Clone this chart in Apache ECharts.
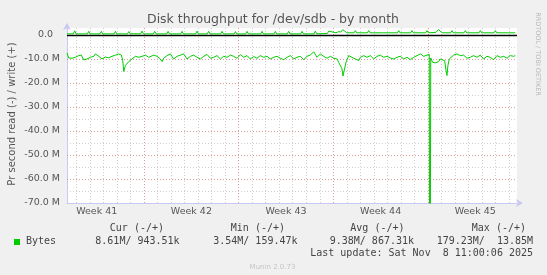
<!DOCTYPE html>
<html><head><meta charset="utf-8">
<script src="https://cdn.jsdelivr.net/npm/echarts@6/dist/echarts.min.js"></script>
<style>html,body{margin:0;padding:0;background:#f0f0f0}#c{width:547px;height:275px}</style>
</head><body><div id="c"></div>
<script>
// ---- texts ----
const titleText = 'Disk throughput for /dev/sdb - by month';
const yAxisTitle = 'Pr second read (-) / write (+)';
const sideText = 'RRDTOOL / TOBI OETIKER';
const footerText = 'Munin 2.0.73';
// x axis: days relative to start of week 42
const weekLabels = ['Week 41', 'Week 42', 'Week 43', 'Week 44', 'Week 45'];
const weekCenters = [-3.5, 3.5, 10.5, 17.5, 24.5];
const weekStarts = [0, 7, 14, 21];
const yTickValues = [0, -10, -20, -30, -40, -50, -60, -70];
// ---- data (MB/s; read is negative) ----
const readDays = [-5.70,-5.57,-5.33,-5.08,-4.83,-4.64,-4.46,-4.22,-3.97,-3.72,-3.60,-3.35,-3.11,-2.98,-2.86,-2.61,-2.37,-2.12,-1.87,-1.68,-1.58,-1.50,-1.38,-1.13,-0.89,-0.76,-0.64,-0.39,-0.15,0.10,0.35,0.47,0.71,0.96,1.21,1.33,1.45,1.70,1.95,2.19,2.44,2.69,2.93,3.18,3.43,3.67,3.92,4.17,4.41,4.66,4.91,5.15,5.40,5.65,5.89,6.14,6.39,6.63,6.88,7.13,7.37,7.62,7.86,8.11,8.36,8.60,8.85,9.10,9.34,9.59,9.84,10.08,10.33,10.58,10.82,11.07,11.32,11.56,11.81,12.06,12.30,12.55,12.80,13.04,13.29,13.54,13.78,14.03,14.28,14.40,14.52,14.64,14.72,14.84,14.94,15.14,15.38,15.63,15.88,16.00,16.25,16.49,16.74,16.99,17.23,17.48,17.73,17.97,18.22,18.47,18.71,18.96,19.21,19.45,19.70,19.95,20.19,20.44,20.69,20.93,21.10,21.14,21.17,21.21,21.35,21.54,21.79,21.91,22.04,22.24,22.34,22.41,22.48,22.58,22.66,22.90,23.15,23.39,23.64,23.89,24.13,24.38,24.63,24.87,25.12,25.37,25.61,25.86,26.11,26.35,26.60,26.85,27.09,27.34,27.46];
const readVals = [-7.5,-9.6,-9.7,-9.3,-8.6,-8.4,-10.4,-10.0,-9.3,-8.9,-7.9,-8.9,-10.0,-9.7,-9.2,-9.5,-8.9,-8.4,-7.9,-8.4,-10.5,-15.2,-12.7,-11.1,-10.0,-9.6,-8.9,-9.3,-8.9,-8.4,-9.3,-8.6,-8.4,-8.9,-10.0,-11.1,-9.7,-8.6,-7.9,-10.0,-8.9,-8.4,-7.9,-10.0,-8.9,-8.4,-9.3,-10.0,-8.9,-8.1,-9.7,-9.3,-8.6,-10.0,-8.9,-9.3,-8.4,-8.9,-9.7,-8.2,-9.3,-8.6,-10.0,-9.0,-9.7,-8.6,-9.3,-8.9,-10.0,-9.3,-8.9,-9.7,-10.3,-9.3,-8.6,-10.0,-9.3,-8.9,-10.3,-8.9,-8.4,-7.0,-9.3,-7.9,-8.9,-9.7,-8.9,-9.7,-10.0,-11.4,-10.7,-14.1,-17.1,-16.9,-11.4,-8.6,-9.3,-10.0,-10.7,-9.3,-8.6,-9.3,-8.6,-10.0,-8.9,-8.4,-9.3,-8.9,-9.6,-10.0,-9.3,-8.9,-10.0,-9.3,-10.3,-9.3,-8.6,-7.9,-8.9,-8.4,-8.1,-179.2,-179.2,-9.6,-11.4,-11.6,-11.1,-10.0,-9.3,-10.7,-14.8,-16.9,-12.7,-10.0,-9.3,-8.4,-7.9,-8.6,-8.4,-9.7,-9.3,-8.6,-9.3,-8.4,-10.0,-8.9,-9.3,-10.3,-8.6,-9.3,-8.9,-9.7,-8.6,-8.9,-8.6];
const writeDays = [-5.70,-5.23,-5.13,-5.03,-4.19,-4.09,-3.99,-3.26,-3.16,-3.06,-2.22,-2.12,-2.02,-1.23,-1.13,-1.03,-0.90,-0.80,-0.25,-0.15,-0.05,0.69,0.79,0.89,1.68,1.78,1.88,2.71,2.81,2.91,3.82,3.92,4.02,4.68,4.78,4.88,5.67,5.77,5.87,6.66,6.76,6.86,7.52,7.62,7.72,8.63,8.73,8.83,9.61,9.71,9.81,10.60,10.70,10.80,11.59,11.69,11.79,12.57,12.67,12.77,13.56,13.66,13.76,14.20,14.40,14.55,14.70,14.85,15.00,15.53,15.63,15.73,16.52,16.62,16.72,17.63,17.73,17.83,18.74,18.84,18.94,19.72,19.82,19.92,20.83,20.93,21.03,21.60,21.79,21.95,22.10,22.68,22.78,22.88,23.67,23.77,23.87,24.78,24.88,24.98,25.89,25.99,26.09,26.87,26.97,27.07,27.46];
const writeVals = [0.45,0.45,1.7,0.45,0.45,1.5,0.45,0.45,1.5,0.45,0.45,1.5,0.45,0.45,1.4,0.5,0.9,0.5,0.45,1.6,0.45,0.45,1.5,0.45,0.45,1.5,0.45,0.45,1.5,0.45,0.45,1.6,0.45,0.45,1.5,0.45,0.45,1.5,0.45,0.45,1.4,0.45,0.45,1.5,0.45,0.45,1.5,0.45,0.45,1.5,0.45,0.45,1.5,0.45,0.45,1.5,0.45,0.45,1.6,0.5,0.6,1.6,0.8,0.9,1.4,1.2,2.2,1.6,0.9,0.9,1.8,0.9,0.9,1.8,0.9,0.9,1.7,0.9,0.9,1.8,0.9,0.9,1.8,0.9,0.9,1.8,0.9,1.1,2.3,1.3,0.9,0.9,1.8,0.9,0.9,1.8,0.9,0.9,1.8,0.9,0.9,1.8,0.9,0.9,1.7,0.9,0.9];
// legend table
const legendSeriesName = 'Bytes';
const legendHeaders = ['Cur (-/+)', 'Min (-/+)', 'Avg (-/+)', 'Max (-/+)'];
const legendValues = ['8.61M/ 943.51k', '3.54M/ 159.47k', '9.38M/ 867.31k', '179.23M/  13.85M'];
const lastUpdate = 'Last update: Sat Nov  8 11:00:06 2025';

const GREEN = '#00cc00';
const X_MIN = -5.7, X_MAX = 27.59, Y_MIN = -70, Y_MAX = 2.9;

// grid lines
const minorStyle = {color: '#cfcfcf', width: 1, type: [1, 2]};
const majorStyle = {color: 'rgba(215,120,120,0.75)', width: 1, type: [1, 2]};
const gridLines = [];
for (let d = Math.ceil(X_MIN); d <= X_MAX; d++) {
  const isWeek = weekStarts.indexOf(d) >= 0;
  gridLines.push({xAxis: d, lineStyle: isWeek ? majorStyle : minorStyle});
}
for (let v = -65; v < 0; v += 5) {
  gridLines.push({yAxis: v, lineStyle: (v % 10 === 0) ? majorStyle : minorStyle});
}

const chart = echarts.init(document.getElementById('c'), null, {renderer: 'canvas'});
const monoFont = '"DejaVu Sans Mono", monospace';
const sansFont = '"DejaVu Sans", sans-serif';
const legendGraphics = [];
const headerRight = [164, 285, 404.5, 526];
const valueRight = [179.6, 297.5, 414, 533];
legendHeaders.forEach((h, i) => legendGraphics.push({type: 'text', right: 547 - headerRight[i], top: 223, style: {text: h, font: '10px ' + monoFont, fill: '#444'}}));
legendValues.forEach((h, i) => legendGraphics.push({type: 'text', right: 547 - valueRight[i], top: 236, style: {text: h, font: '10px ' + monoFont, fill: '#444'}}));

chart.setOption({
  animation: false,
  backgroundColor: '#f0f0f0',
  grid: {left: 67, right: 30, top: 28, bottom: 72, show: true, backgroundColor: '#ffffff', borderWidth: 0, containLabel: false, outerBoundsMode: 'none'},
  xAxis: {
    type: 'value', min: X_MIN, max: X_MAX,
    axisLine: {show: true, onZero: false, lineStyle: {color: '#c8c8f4', width: 1}, symbol: ['none', 'arrow'], symbolSize: [6, 7], symbolOffset: [0, 6]},
    axisTick: {show: false},
    splitLine: {show: false},
    axisLabel: {customValues: weekCenters, margin: 4, color: '#555', fontFamily: sansFont, fontSize: 9.5,
      formatter: (v) => { const i = weekCenters.indexOf(v); return i >= 0 ? weekLabels[i] : ''; }}
  },
  yAxis: {
    type: 'value', min: Y_MIN, max: Y_MAX,
    axisLine: {show: true, onZero: false, lineStyle: {color: '#c8c8f4', width: 1}, symbol: ['none', 'arrow'], symbolSize: [6, 7], symbolOffset: [0, 5]},
    axisTick: {show: false},
    splitLine: {show: false},
    axisLabel: {customValues: yTickValues, margin: 7, color: '#555', fontFamily: sansFont, fontSize: 9.5,
      formatter: (v) => v === 0 ? '{z|0.0}' : v.toFixed(1) + ' M',
      rich: {z: {color: '#555', fontFamily: sansFont, fontSize: 9.5, padding: [0, 7, 0, 0]}}}
  },
  series: [
    {type: 'line', data: [], z: 1, silent: true,
      markLine: {silent: true, symbol: ['none', 'none'], label: {show: false}, z: 1, animation: false, data: gridLines}},
    {type: 'line', data: [], z: 2, silent: true,
      markLine: {silent: true, symbol: ['none', 'none'], label: {show: false}, z: 2, animation: false,
        data: [{yAxis: 0, lineStyle: {color: '#000', width: 1.3, type: 'solid'}}]}},
    {name: 'read', type: 'line', z: 3, symbol: 'none', clip: true, lineStyle: {color: GREEN, width: 1}, itemStyle: {color: GREEN},
      data: readDays.map((d, i) => [d, readVals[i]])},
    {name: 'write', type: 'line', z: 3, symbol: 'none', clip: true, lineStyle: {color: GREEN, width: 1}, itemStyle: {color: GREEN},
      data: writeDays.map((d, i) => [d, writeVals[i]])}
  ],
  graphic: [
    {type: 'text', x: 273, y: 20, style: {text: titleText, font: '12.5px ' + sansFont, fill: '#555', align: 'center', verticalAlign: 'middle'}},
    {type: 'text', x: 12, y: 114, rotation: Math.PI / 2, style: {text: yAxisTitle, font: '10px ' + sansFont, fill: '#555', align: 'center', verticalAlign: 'middle'}},
    {type: 'text', x: 538, y: 54, rotation: -Math.PI / 2, style: {text: sideText, font: '6.5px ' + sansFont, fill: '#b8b8b8', align: 'center', verticalAlign: 'middle'}},
    {type: 'rect', shape: {x: 14, y: 239, width: 6, height: 6}, style: {fill: GREEN}},
    {type: 'text', left: 26, top: 236, style: {text: legendSeriesName, font: '10px ' + monoFont, fill: '#444'}},
    ...legendGraphics,
    {type: 'text', right: 547 - 533, top: 248.5, style: {text: lastUpdate, font: '10px ' + monoFont, fill: '#444'}},
    {type: 'text', x: 272.5, y: 267, style: {text: footerText, font: '7px ' + sansFont, fill: '#c4c4c4', align: 'center', verticalAlign: 'middle'}}
  ]
});
</script></body></html>
